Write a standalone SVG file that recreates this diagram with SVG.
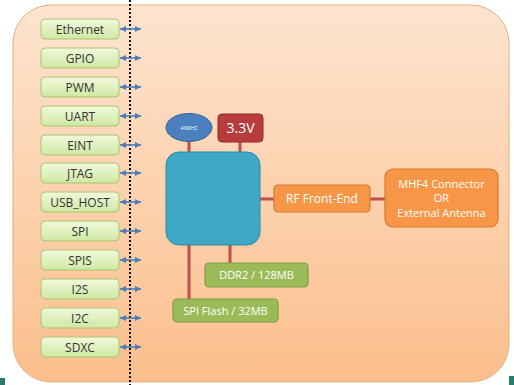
<svg xmlns="http://www.w3.org/2000/svg" width="514" height="385" viewBox="0 0 514 385">
<defs>
<linearGradient id="bg" x1="0" y1="0" x2="0" y2="1">
<stop offset="0" stop-color="#fde4cf"/>
<stop offset="1" stop-color="#fbbf8c"/>
</linearGradient>
<linearGradient id="gr" x1="0" y1="0" x2="0" y2="1">
<stop offset="0" stop-color="#f1f9dd"/>
<stop offset="1" stop-color="#cfe8a3"/>
</linearGradient>
<marker id="ah" viewBox="0 0 10 10" refX="10" refY="5" markerUnits="userSpaceOnUse" markerWidth="6" markerHeight="7" orient="auto-start-reverse">
<path d="M0,0 L10,5 L0,10 z" fill="#4a7ebb"/>
</marker>
</defs>
<style>
.if rect{fill:url(#gr);stroke:#a8c66c;stroke-width:1}
.if text{font-family:"Open Sans","Liberation Sans",sans-serif;font-size:12px;fill:#333;text-anchor:middle}
.w{font-family:"Open Sans","Liberation Sans",sans-serif;fill:#fff;text-anchor:middle}
.red{stroke:#c0504d;stroke-width:3;fill:none}
.arr{stroke:#4a7ebb;stroke-width:1.6;marker-start:url(#ah);marker-end:url(#ah)}
.or{fill:#f79646;stroke:#d9782f;stroke-width:1.2}
.gn{fill:#9bbb59;stroke:#7f9c44;stroke-width:1.2}
</style>
<rect width="514" height="385" fill="#fff"/>
<path d="M0,378 L5,378 L5,385 L0,385 z" fill="#2b7a6e"/>
<path d="M509,376 L514,376 L514,385 L509,385 z" fill="#2b7a6e"/>
<rect x="13" y="5" width="496" height="377" rx="38" fill="url(#bg)" stroke="#e0b080" stroke-width="1"/>
<line x1="130" y1="0" x2="130" y2="385" stroke="#111" stroke-width="2" stroke-dasharray="2,2"/>

<g id="connectors">
<line class="arr" x1="120" y1="29" x2="141" y2="29"/>
<line class="arr" x1="120" y1="58" x2="141" y2="58"/>
<line class="arr" x1="120" y1="87" x2="141" y2="87"/>
<line class="arr" x1="120" y1="116" x2="141" y2="116"/>
<line class="arr" x1="120" y1="145" x2="141" y2="145"/>
<line class="arr" x1="120" y1="173" x2="141" y2="173"/>
<line class="arr" x1="120" y1="202" x2="141" y2="202"/>
<line class="arr" x1="120" y1="231" x2="141" y2="231"/>
<line class="arr" x1="120" y1="260" x2="141" y2="260"/>
<line class="arr" x1="120" y1="289" x2="141" y2="289"/>
<line class="arr" x1="120" y1="318" x2="141" y2="318"/>
<line class="arr" x1="120" y1="347" x2="141" y2="347"/>
<line class="red" x1="189" y1="141" x2="189" y2="153"/>
<line class="red" x1="240" y1="141" x2="240" y2="153"/>
<line class="red" x1="259" y1="199" x2="275" y2="199"/>
<line class="red" x1="369" y1="199" x2="386" y2="199"/>
<line class="red" x1="189" y1="244" x2="189" y2="300"/>
<line class="red" x1="230" y1="244" x2="230" y2="264"/>
</g>

<g id="ethernet" class="if"><rect x="41" y="19" width="78" height="20" rx="4"/><text x="80" y="33.5">Ethernet</text></g>
<g id="gpio" class="if"><rect x="41" y="48" width="78" height="20" rx="4"/><text x="80" y="62.5">GPIO</text></g>
<g id="pwm" class="if"><rect x="41" y="77" width="78" height="20" rx="4"/><text x="80" y="91.5">PWM</text></g>
<g id="uart" class="if"><rect x="41" y="106" width="78" height="20" rx="4"/><text x="80" y="120.5">UART</text></g>
<g id="eint" class="if"><rect x="41" y="135" width="78" height="20" rx="4"/><text x="80" y="149.5">EINT</text></g>
<g id="jtag" class="if"><rect x="41" y="163" width="78" height="20" rx="4"/><text x="80" y="177.5">JTAG</text></g>
<g id="usb_host" class="if"><rect x="41" y="192" width="78" height="20" rx="4"/><text x="80" y="206.5">USB_HOST</text></g>
<g id="spi" class="if"><rect x="41" y="221" width="78" height="20" rx="4"/><text x="80" y="235.5">SPI</text></g>
<g id="spis" class="if"><rect x="41" y="250" width="78" height="20" rx="4"/><text x="80" y="264.5">SPIS</text></g>
<g id="i2s" class="if"><rect x="41" y="279" width="78" height="20" rx="4"/><text x="80" y="293.5">I2S</text></g>
<g id="i2c" class="if"><rect x="41" y="308" width="78" height="20" rx="4"/><text x="80" y="322.5">I2C</text></g>
<g id="sdxc" class="if"><rect x="41" y="337" width="78" height="20" rx="4"/><text x="80" y="351.5">SDXC</text></g>

<g id="osc"><ellipse cx="189" cy="127.5" rx="23" ry="14" fill="#4a7fc0" stroke="#35629a" stroke-width="1"/><text class="w" x="189" y="129.5" font-size="5">40MHZ</text></g>
<g id="v33"><rect x="218" y="114" width="45" height="28" rx="4" fill="#b93c3c" stroke="#8e2b2b" stroke-width="1"/><text class="w" x="240.5" y="133" font-size="14">3.3V</text></g>
<g id="chip"><rect x="166" y="152" width="94" height="93" rx="13" fill="#3fa8c4" stroke="#2f8aa3" stroke-width="1"/></g>
<g id="rf"><rect class="or" x="274" y="185" width="96" height="27" rx="4"/><text class="w" x="322" y="203" font-size="12">RF Front-End</text></g>
<g id="mhf4"><rect class="or" x="385" y="169" width="113" height="58" rx="8"/><text class="w" x="441.5" y="188" font-size="11">MHF4 Connector</text><text class="w" x="441.5" y="202" font-size="11">OR</text><text class="w" x="441.5" y="217" font-size="11">External Antenna</text></g>
<g id="ddr2"><rect class="gn" x="205" y="263" width="103" height="24" rx="4"/><text class="w" x="256.5" y="279" font-size="11">DDR2 / 128MB</text></g>
<g id="spiflash"><rect class="gn" x="173" y="299" width="105" height="23" rx="4"/><text class="w" x="225.5" y="314.5" font-size="11">SPI Flash / 32MB</text></g>
</svg>
